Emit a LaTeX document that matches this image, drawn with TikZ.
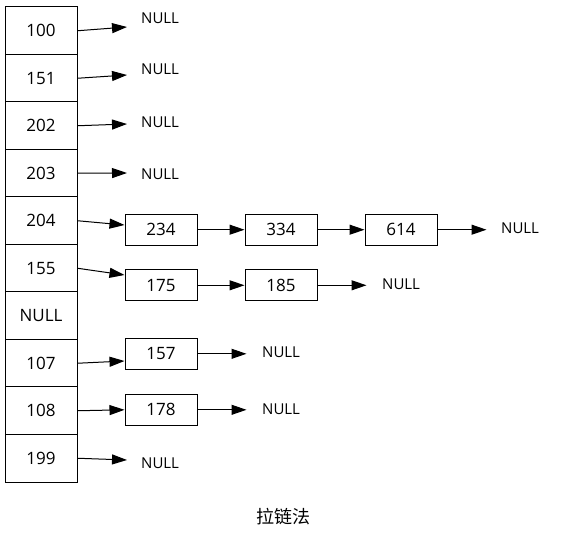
\documentclass[tikz,border=0pt]{standalone}
\usepackage{fontspec}
\setmainfont{Open Sans}
\newfontfamily\cjk{Noto Sans CJK SC}
\usetikzlibrary{arrows.meta}

\begin{document}
\begin{tikzpicture}[x=1pt, y=-1pt]
	\tikzstyle{every node}=[font=\fontsize{17}{19}\selectfont]
	\tikzstyle{cell}=[draw, line width=1pt, minimum width=72pt, minimum height=47.5pt, inner sep=0pt]
	\tikzstyle{item}=[draw, line width=1pt, minimum width=72pt, minimum height=31pt, inner sep=0pt]
	\tikzstyle{null}=[anchor=west, inner sep=0pt, font=\fontsize{15}{17}\selectfont]
	\tikzstyle{arr}=[line width=1pt, -{Triangle[length=15pt, width=10pt]}]
	\useasboundingbox (0,0) rectangle (563,540);

	%bucket array
	\foreach \v [count=\i from 0] in {100,151,202,203,204,155,NULL,107,108,199}
		\node[cell] (a\i) at (41, {7 + 47.5*(\i+0.5)}) {\v};

	%chain items
	\node[item] (c234) at (161,229.7) {234};
	\node[item] (c334) at (281,229.7) {334};
	\node[item] (c614) at (401,229.7) {614};
	\node[item] (c175) at (161,285.3) {175};
	\node[item] (c185) at (281,285.3) {185};
	\node[item] (c157) at (161,353.8) {157};
	\node[item] (c178) at (161,409.8) {178};

	%empty buckets
	\foreach \i/\y/\e in {0/17.8/27, 1/69/75, 2/122/124, 3/174/173, 9/463/460} {
		\node[null] (z\i) at (141,\y) {NULL};
		\coordinate (e\i) at (127,\e);
		\draw[arr] (a\i.east) -- (e\i);
	}

	%chain ends
	\foreach \n/\x/\y in {614/501/228, 185/382/284, 157/262/352.7, 178/262/409} {
		\node[null] (z\n) at (\x,\y) {NULL};
		\coordinate (e\n) at ([xshift=49pt]c\n.east);
		\draw[arr] (c\n.east) -- (e\n);
	}

	%links
	\draw[arr] (a4.east) -- ([yshift=4.7pt]c234.west);
	\draw[arr] (a5.east) -- ([yshift=10.3pt]c175.west);
	\draw[arr] (a7.east) -- ([yshift=-7.2pt]c157.west);
	\draw[arr] (a8.east) -- (c178.west);
	\draw[arr] (c234) -- (c334);
	\draw[arr] (c334) -- (c614);
	\draw[arr] (c175) -- (c185);

	%caption
	\node[font=\cjk\fontsize{18}{20}\selectfont] (title) at (283.5,517) {拉链法};
\end{tikzpicture}
\end{document}
